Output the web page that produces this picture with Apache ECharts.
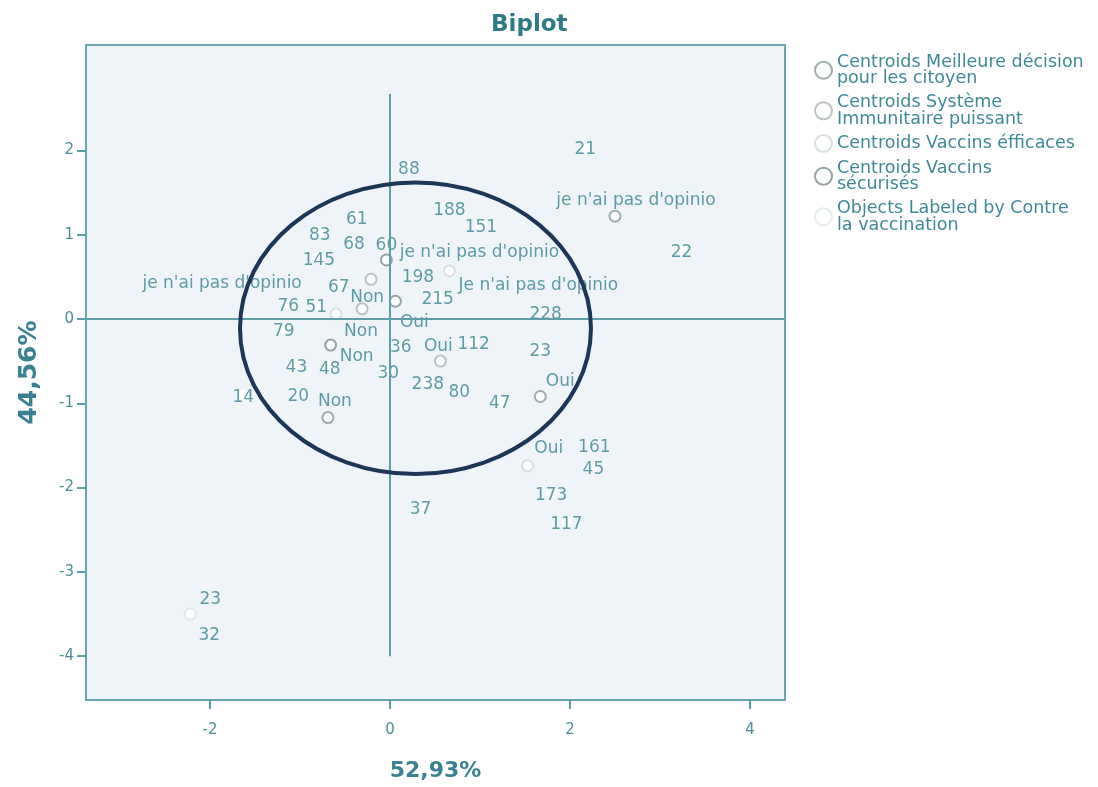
<!DOCTYPE html>
<html>
<head>
<meta charset="utf-8">
<title>Biplot</title>
<script src="https://cdn.jsdelivr.net/npm/echarts@6/dist/echarts.min.js"></script>
<style>
  html, body { margin: 0; padding: 0; background: #ffffff; }
  #chart { width: 1098px; height: 787px; }
</style>
</head>
<body>
<div id="chart"></div>
<script>
// Axis ticks
const xTicks = [-2, 0, 2, 4];
const yTicks = [-4, -3, -2, -1, 0, 1, 2];

// Category centroids: [dimension 1, dimension 2, category]
const meilleureDecision = [
  [2.50, 1.22, "je n'ai pas d'opinio"],
  [-0.69, -1.17, 'Non'],
  [1.67, -0.92, 'Oui']
];
const systemeImmunitaire = [
  [-0.21, 0.47, "je n'ai pas d'opinio"],
  [-0.31, 0.12, 'Non'],
  [0.56, -0.50, 'Oui']
];
const vaccinsEfficaces = [
  [0.66, 0.57, "Je n'ai pas d'opinio"],
  [-0.60, 0.06, 'Non'],
  [1.53, -1.74, 'Oui']
];
const vaccinsSecurises = [
  [-0.04, 0.70, "je n'ai pas d'opinio"],
  [-0.66, -0.31, 'Non'],
  [0.06, 0.21, 'Oui']
];

// Object scores, labelled by case number
const objects = [
  [2.17, 2.04, '21'], [0.21, 1.81, '88'], [0.66, 1.32, '188'], [1.01, 1.12, '151'],
  [-0.37, 1.22, '61'], [-0.78, 1.03, '83'], [-0.40, 0.92, '68'], [-0.04, 0.91, '60'],
  [-0.79, 0.73, '145'], [3.24, 0.82, '22'], [0.31, 0.53, '198'], [-0.57, 0.41, '67'],
  [0.53, 0.26, '215'], [-1.13, 0.18, '76'], [-0.82, 0.17, '51'], [1.73, 0.09, '228'],
  [-1.18, -0.11, '79'], [0.12, -0.30, '36'], [0.93, -0.27, '112'], [1.67, -0.35, '23'],
  [-1.04, -0.54, '43'], [-0.67, -0.56, '48'], [-0.02, -0.61, '30'], [0.42, -0.74, '238'],
  [0.77, -0.84, '80'], [1.22, -0.97, '47'], [-1.63, -0.90, '14'], [-1.02, -0.89, '20'],
  [2.27, -1.49, '161'], [2.26, -1.75, '45'], [1.79, -2.06, '173'], [1.96, -2.40, '117'],
  [0.34, -2.22, '37'], [-2.22, -3.50, '23'], [-2.22, -3.50, '32']
];

// Reference axes through the origin
const originLines = { horizontal: 0, vertical: [0, 2.67, -4.0] };

// Highlighted region: centre and radii in axis units
const ellipseRegion = { cx: 0.283, cy: -0.11, rx: 1.95, ry: 1.73 };

// Label placement (pixels, relative to each marker)
const centroidLabelShift = [
  [[21, -19], [7, -19], [20, -18]],
  [[-149, 1], [5, -14], [-2, -18]],
  [[89, 12], [25, 15], [21, -20]],
  [[93, -10], [26, 8], [19, 18]]
];
const objectLabelShift = { 33: [20, -17], 34: [19, 19] };
const BASELINE_SHIFT = 3;

const FONT = "'DejaVu Sans', Verdana, sans-serif";
const TEAL = '#3a8591';

const legendText = {
  'Centroids Meilleure décision pour les citoyen': 'Centroids Meilleure décision\npour les citoyen',
  'Centroids Système Immunitaire puissant': 'Centroids Système\nImmunitaire puissant',
  'Centroids Vaccins éfficaces': 'Centroids Vaccins éfficaces',
  'Centroids Vaccins sécurisés': 'Centroids Vaccins\nsécurisés',
  'Objects Labeled by Contre la vaccination': 'Objects Labeled by Contre\nla vaccination'
};

const centroidSets = [
  { name: 'Centroids Meilleure décision pour les citoyen', data: meilleureDecision, color: '#8a9b9e' },
  { name: 'Centroids Système Immunitaire puissant', data: systemeImmunitaire, color: '#aab6b9' },
  { name: 'Centroids Vaccins éfficaces', data: vaccinsEfficaces, color: '#cfd8db' },
  { name: 'Centroids Vaccins sécurisés', data: vaccinsSecurises, color: '#7d8f93' }
];

const labelStyle = {
  show: true,
  position: 'inside',
  fontSize: 17,
  fontFamily: FONT,
  color: TEAL,
  offset: [0, BASELINE_SHIFT],
  formatter: p => p.data.name
};

const shifted = s => [s[0], s[1] + BASELINE_SHIFT];

const centroidSeries = centroidSets.map((set, si) => ({
  name: set.name,
  type: 'scatter',
  symbol: 'emptyCircle',
  symbolSize: 11,
  itemStyle: { color: set.color, borderWidth: 1.8 },
  label: labelStyle,
  z: 3,
  data: set.data.map((d, i) => ({
    value: [d[0], d[1]],
    name: d[2],
    label: { offset: shifted(centroidLabelShift[si][i]) }
  }))
}));

const hiddenMarker = { color: 'rgba(0,0,0,0)', borderColor: 'rgba(0,0,0,0)' };

const objectSeries = {
  name: 'Objects Labeled by Contre la vaccination',
  type: 'scatter',
  symbol: 'emptyCircle',
  symbolSize: 11,
  itemStyle: { color: '#dfe7ea', borderWidth: 1.8 },
  label: labelStyle,
  z: 2,
  data: objects.map((d, i) => ({
    value: [d[0], d[1]],
    name: d[2],
    itemStyle: objectLabelShift[i] ? undefined : hiddenMarker,
    label: objectLabelShift[i] ? { offset: shifted(objectLabelShift[i]) } : undefined
  })),
  markLine: {
    silent: true,
    symbol: 'none',
    label: { show: false },
    lineStyle: { color: '#5c9fa8', width: 2, type: 'solid' },
    data: [
      { yAxis: originLines.horizontal },
      [
        { coord: [originLines.vertical[0], originLines.vertical[1]] },
        { coord: [originLines.vertical[0], originLines.vertical[2]] }
      ]
    ]
  }
};

const axisCommon = {
  type: 'value',
  splitLine: { show: false },
  axisLine: { show: false, onZero: false },
  nameTextStyle: { fontWeight: 'bold', color: '#3a8291', fontFamily: FONT }
};

const chart = echarts.init(document.getElementById('chart'), null, { renderer: 'canvas' });

chart.setOption({
  animation: false,
  backgroundColor: '#ffffff',
  textStyle: { fontFamily: FONT },
  title: {
    text: 'Biplot',
    left: 486,
    top: 9,
    textStyle: { fontSize: 23, fontWeight: 'bold', color: '#2f7a88', fontFamily: FONT }
  },
  legend: {
    orient: 'vertical',
    left: 809,
    top: 48,
    itemWidth: 17,
    itemHeight: 17,
    itemGap: 6,
    selectedMode: false,
    formatter: name => legendText[name],
    textStyle: { fontSize: 17.5, lineHeight: 16.5, color: '#3f8a96', fontFamily: FONT },
    data: centroidSets.map(s => s.name).concat([objectSeries.name])
  },
  grid: {
    left: 86,
    top: 45,
    width: 699,
    height: 658,
    show: true,
    backgroundColor: '#eef4f7',
    borderColor: '#6aa6af',
    borderWidth: 2
  },
  xAxis: Object.assign({}, axisCommon, {
    min: -3.378,
    max: 4.389,
    name: '52,93%',
    nameLocation: 'middle',
    nameGap: 60,
    nameTextStyle: Object.assign({}, axisCommon.nameTextStyle, { fontSize: 22 }),
    axisTick: { show: true, length: 9, customValues: xTicks, lineStyle: { color: '#5c9fa8', width: 2 } },
    axisLabel: { customValues: xTicks, fontSize: 15, color: '#4b8e99', margin: 23, fontFamily: FONT }
  }),
  yAxis: Object.assign({}, axisCommon, {
    min: -4.52,
    max: 3.25,
    name: '44,56%',
    nameLocation: 'middle',
    nameGap: 44,
    nameRotate: 90,
    nameTextStyle: Object.assign({}, axisCommon.nameTextStyle, { fontSize: 25 }),
    axisTick: { show: true, length: 9, customValues: yTicks, lineStyle: { color: '#5c9fa8', width: 2 } },
    axisLabel: { customValues: yTicks, fontSize: 15, color: '#4b8e99', margin: 12, fontFamily: FONT }
  }),
  series: centroidSeries.concat([objectSeries])
});

// Outline the highlighted region, sized in axis units
const centre = chart.convertToPixel({ gridIndex: 0 }, [ellipseRegion.cx, ellipseRegion.cy]);
const edge = chart.convertToPixel({ gridIndex: 0 }, [ellipseRegion.cx + ellipseRegion.rx, ellipseRegion.cy + ellipseRegion.ry]);
chart.setOption({
  graphic: [{
    type: 'ellipse',
    silent: true,
    z: 100,
    shape: { cx: centre[0], cy: centre[1], rx: Math.abs(edge[0] - centre[0]), ry: Math.abs(centre[1] - edge[1]) },
    style: { fill: 'none', stroke: '#1d3658', lineWidth: 4 }
  }]
});
</script>
</body>
</html>
